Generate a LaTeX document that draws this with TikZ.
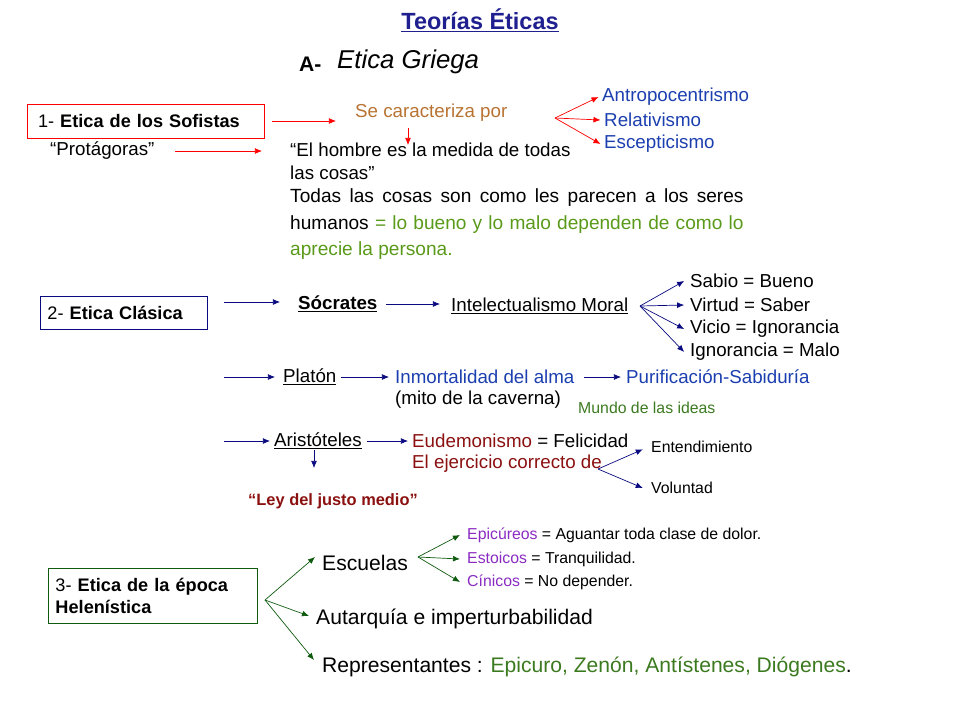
\documentclass[tikz,border=0pt]{standalone}
\usepackage{fontspec}
\setmainfont{Liberation Sans}
\usetikzlibrary{arrows.meta}
\definecolor{tblue}{HTML}{1F1F8F}
\definecolor{nblue}{HTML}{0A0A80}
\definecolor{lblue}{HTML}{1C3FB0}
\definecolor{brn}{HTML}{B87333}
\definecolor{grn}{HTML}{5A9A1A}
\definecolor{dgrn}{HTML}{0E5A0E}
\definecolor{dred}{HTML}{8B1010}
\definecolor{purp}{HTML}{8A2BC2}
\definecolor{mgrn}{HTML}{3C7A20}
\begin{document}
\begin{tikzpicture}[x=0.03cm,y=-0.03cm,
  txt/.style={anchor=west,inner sep=0pt,font=\fontsize{16pt}{19pt}\selectfont},
  big/.style={anchor=west,inner sep=0pt,font=\fontsize{18pt}{21pt}\selectfont},
  sm/.style={anchor=west,inner sep=0pt,font=\fontsize{13.5pt}{16pt}\selectfont},
  bx/.style={draw,line width=0.8pt,anchor=north west,inner sep=0pt,font=\fontsize{15.5pt}{19pt}\selectfont},
  arr/.style={-{Latex[length=6pt,width=5pt]},line width=0.6pt}]
\useasboundingbox (0,0) rectangle (960,720);
\node[font=\bfseries\fontsize{20pt}{23pt}\selectfont,text=tblue,inner sep=0pt] (title) at (480,20) {\underline{Teorías Éticas}};
\node[txt,font=\bfseries\fontsize{18pt}{21pt}\selectfont] (A) at (299,64) {A-};
\node[txt,font=\itshape\fontsize{22pt}{25pt}\selectfont] (griega) at (337,62) {Etica Griega};
% section 1
\node[bx,draw=red,text width=7.1cm,minimum height=1.02cm,align=left] (b1) at (27,104) {\hspace{9pt}1- \textbf{Etica de los Sofistas}};
\coordinate (a1s) at (272,121); \coordinate (a1e) at (336,121);
\draw[arr,red] (a1s) -- (a1e);
\node[txt,text=brn] (se) at (355,113) {Se caracteriza por};
\coordinate (fork1) at (555,118);
\node[txt,text=lblue] (antro) at (602,97) {Antropocentrismo};
\node[txt,text=lblue] (rel) at (604,120) {Relativismo};
\node[txt,text=lblue] (esc) at (604,144) {Escepticismo};
\draw[arr,red] (fork1) -- ([xshift=-3pt]antro.west);
\draw[arr,red] (fork1) -- ([xshift=-3pt]rel.west);
\draw[arr,red] (fork1) -- ([xshift=-3pt]esc.west);
\coordinate (d1s) at (408,128); \coordinate (d1e) at (408,145);
\draw[arr,red] (d1s) -- (d1e);
\node[txt] (prot) at (50,151) {“Protágoras”};
\coordinate (p1s) at (175,151); \coordinate (p1e) at (262,151);
\draw[arr,red] (p1s) -- (p1e);
\node[txt,anchor=north west,align=left,font=\fontsize{16pt}{19pt}\selectfont] (hom) at (290,143) {“El hombre es la medida de todas\\las cosas”};
\node[txt,anchor=north west,text width=13.6cm,align=justify,font=\fontsize{16.3pt}{23pt}\selectfont] (todas) at (290,188) {\hyphenpenalty=10000 Todas las cosas son como les parecen a los seres humanos \textcolor{grn}{= lo bueno y lo malo dependen de como lo aprecie la persona.}};
% section 2
\node[bx,draw=nblue,text width=5cm,minimum height=0.99cm,align=left] (b2) at (40,296) {\hspace{6pt}2- \textbf{Etica Clásica}};
\coordinate (s0) at (224,302); \coordinate (s1) at (280,302);
\draw[arr,nblue] (s0) -- (s1);
\node[txt,font=\bfseries\fontsize{16pt}{19pt}\selectfont] (soc) at (298,304) {\underline{Sócrates}};
\node[txt] (intel) at (451,306) {\underline{Intelectualismo Moral}};
\coordinate (s2) at (386,304); \coordinate (s3) at (440,304);
\draw[arr,nblue] (s2) -- (s3);
\coordinate (fork2) at (640,306);
\node[txt] (sab) at (690,281) {Sabio = Bueno};
\node[txt] (vir) at (690,305) {Virtud = Saber};
\node[txt] (vic) at (690,329) {Vicio = Ignorancia};
\node[txt] (ign) at (690,352) {Ignorancia = Malo};
\foreach \n in {sab,vir,vic,ign} \draw[arr,nblue] (fork2) -- ([xshift=-5pt]\n.west);
\coordinate (p0) at (224,377); \coordinate (p1) at (275,377);
\draw[arr,nblue] (p0) -- (p1);
\node[txt] (plat) at (283,377) {\underline{Platón}};
\node[txt,text=lblue] (inm) at (395,377) {Inmortalidad del alma};
\coordinate (pa) at (341,377); \coordinate (pb) at (389,377);
\draw[arr,nblue] (pa) -- (pb);
\node[txt,text=lblue] (pur) at (626,377) {Purificación-Sabiduría};
\coordinate (pc) at (584,377); \coordinate (pd) at (621,377);
\draw[arr,nblue] (pc) -- (pd);
\node[txt] (mito) at (395,400) {(mito de la caverna)};
\node[sm,text=mgrn] (mundo) at (578,408) {Mundo de las ideas};
\coordinate (q0) at (224,441); \coordinate (q1) at (270,441);
\draw[arr,nblue] (q0) -- (q1);
\node[txt] (ari) at (274,441) {\underline{Aristóteles}};
\node[txt] (eud) at (412,441) {\textcolor{dred}{Eudemonismo} = Felicidad};
\coordinate (qa) at (367,441); \coordinate (qb) at (408,441);
\draw[arr,nblue] (qa) -- (qb);
\node[txt,text=dred] (ej) at (412,464) {El ejercicio correcto de};
\coordinate (fork3) at (598,469);
\node[sm] (ent) at (651,447) {Entendimiento};
\node[sm] (vol) at (651,488) {Voluntad};
\draw[arr,nblue] (fork3) -- ([xshift=-7pt,yshift=-2pt]ent.west);
\draw[arr,nblue] (fork3) -- ([xshift=-7pt]vol.west);
\coordinate (d2s) at (314,450); \coordinate (d2e) at (314,468);
\draw[arr,nblue] (d2s) -- (d2e);
\node[inner sep=0pt,text=dred,font=\bfseries\fontsize{14pt}{17pt}\selectfont] (ley) at (333,501) {“Ley del justo medio”};
% section 3
\node[bx,draw=dgrn,text width=6.27cm,minimum height=1.65cm,align=left] (b3) at (48,568) {\hspace{6pt}3- \textbf{Etica de la época}\\\hspace{6pt}\textbf{Helenística}};
\coordinate (fork4) at (265,600);
\node[big] (esc2) at (322,563) {Escuelas};
\node[big] (aut) at (316,619) {Autarquía e imperturbabilidad};
\node[big] (rep) at (322,667) {Representantes : \textcolor{mgrn}{Epicuro, Zenón, Antístenes, Diógenes}.};
\draw[arr,dgrn] (fork4) -- (315,557);
\draw[arr,dgrn] (fork4) -- (309,616);
\draw[arr,dgrn] (fork4) -- (314,660);
\coordinate (fork5) at (418,557);
\node[sm] (epi) at (467,535) {\textcolor{purp}{Epicúreos} = Aguantar toda clase de dolor.};
\node[sm] (est) at (467,559) {\textcolor{purp}{Estoicos} = Tranquilidad.};
\node[sm] (cin) at (467,582) {\textcolor{purp}{Cínicos} = No depender.};
\foreach \n in {epi,est,cin} \draw[arr,dgrn] (fork5) -- ([xshift=-6pt]\n.west);
\end{tikzpicture}
\end{document}
